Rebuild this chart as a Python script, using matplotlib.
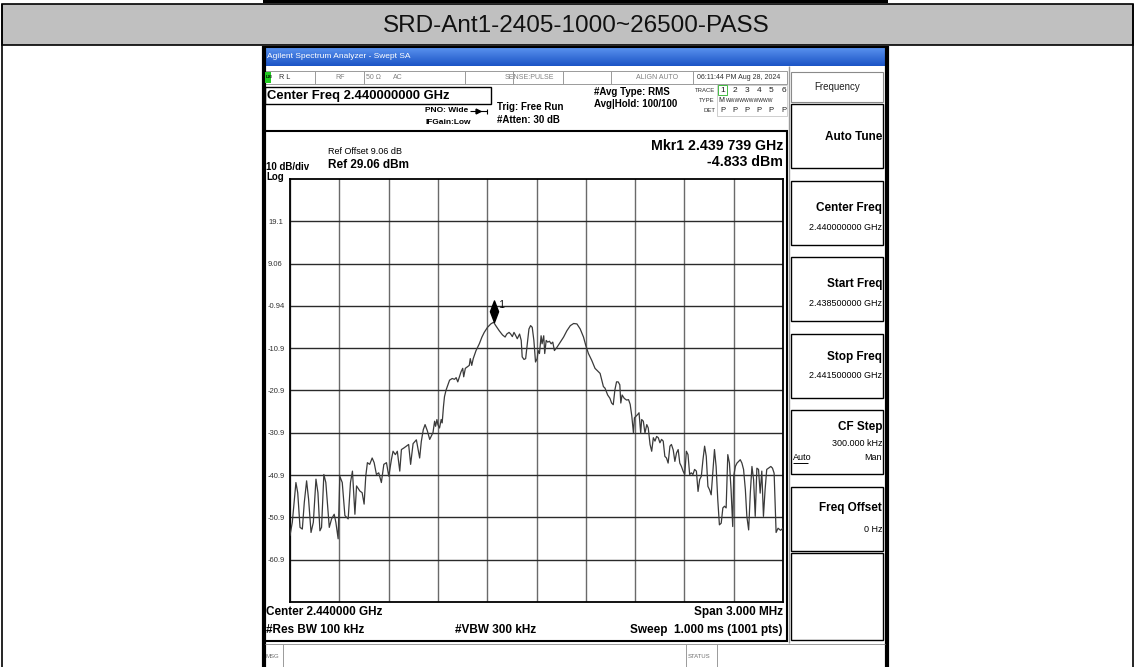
import matplotlib
matplotlib.use("Agg")
import matplotlib.pyplot as plt
import numpy as np
from matplotlib.patches import Rectangle

plt.rcParams['font.family'] = ['Liberation Sans Narrow', 'Liberation Sans', 'DejaVu Sans']

# --- данные ---
title_text = "SRD-Ant1-2405-1000~26500-PASS"
start_ghz = 2.4385
stop_ghz = 2.4415
ref_level = 29.06
db_per_div = 10
y_labels = ["19.1", "9.06", "-0.94", "-10.9", "-20.9", "-30.9", "-40.9", "-50.9", "-60.9"]
mkr_freq = 2.439739
mkr_level = -4.833

# частота над Start Freq, кГц
freq_khz = [0, 14, 36, 47, 61, 75, 87, 101, 113, 128, 142, 158, 170, 182, 192, 206, 218, 239, 253, 269,
            279, 293, 303, 318, 334, 354, 368, 380, 395, 405, 425, 439, 451, 461, 471, 485, 500, 512, 526, 540,
            556, 571, 587, 601, 617, 627, 641, 653, 668, 678, 694, 708, 722, 734, 749, 769, 789, 799, 811, 822,
            836, 850, 870, 880, 886, 894, 900, 910, 920, 926, 934, 940, 950, 971, 987, 1001, 1011, 1021, 1031, 1041,
            1051, 1057, 1067, 1077, 1091, 1097, 1106, 1115, 1132, 1152, 1168, 1182, 1202, 1222, 1239, 1252, 1273, 1293, 1309, 1319,
            1333, 1343, 1353, 1363, 1373, 1383, 1397, 1407, 1413, 1424, 1434, 1444, 1454, 1464, 1474, 1484, 1494, 1504, 1510, 1518,
            1528, 1534, 1544, 1550, 1559, 1568, 1579, 1589, 1599, 1609, 1625, 1645, 1665, 1685, 1706, 1726, 1746, 1766, 1786, 1800,
            1816, 1836, 1856, 1877, 1887, 1897, 1907, 1917, 1933, 1947, 1957, 1967, 1977, 1987, 1997, 2007, 2013, 2021, 2034, 2048,
            2060, 2070, 2080, 2090, 2096, 2106, 2116, 2124, 2134, 2140, 2150, 2160, 2171, 2180, 2191, 2201, 2211, 2221, 2231, 2241,
            2251, 2261, 2271, 2281, 2291, 2301, 2312, 2321, 2332, 2342, 2352, 2362, 2372, 2382, 2392, 2402, 2412, 2422, 2432, 2442,
            2452, 2462, 2473, 2483, 2493, 2503, 2513, 2523, 2533, 2543, 2553, 2563, 2573, 2583, 2593, 2603, 2613, 2624, 2634, 2644,
            2654, 2664, 2674, 2684, 2694, 2700, 2710, 2720, 2730, 2740, 2750, 2760, 2771, 2780, 2791, 2801, 2811, 2821, 2831, 2841,
            2851, 2861, 2871, 2881, 2891, 2901, 2912, 2926, 2936, 2946, 2958, 2970, 2985, 3000]
level_dbm = [-55.2, -52.1, -42.7, -45.1, -53.3, -53.7, -47.4, -42.3, -46.6, -54.5, -52.1, -41.9, -45.1, -54.1, -53.3, -40.8, -42.7, -53.3, -51.3, -50.2,
             -52.1, -56.0, -41.2, -42.7, -50.5, -51.3, -42.7, -40.0, -50.2, -43.5, -44.7, -45.1, -47.8, -41.2, -38.0, -38.4, -36.9, -38.0, -40.8, -40.4,
             -42.7, -38.4, -38.0, -41.2, -37.3, -35.3, -36.1, -35.3, -40.0, -34.9, -34.5, -34.1, -33.7, -38.4, -33.5, -32.6, -36.9, -33.0, -30.2, -29.0,
             -30.5, -32.5, -30.9, -28.2, -29.4, -27.8, -29.0, -29.8, -27.8, -28.6, -24.7, -22.4, -20.8, -18.5, -18.1, -18.3, -17.9, -18.9, -17.7, -16.5,
             -15.7, -17.7, -15.7, -15.4, -15.0, -13.4, -15.0, -13.4, -11.5, -9.9, -8.3, -7.2, -6.0, -5.2, -4.8, -5.6, -6.8, -7.8, -8.3, -7.6,
             -7.2, -7.6, -8.2, -7.2, -7.9, -8.7, -7.6, -9.1, -13.0, -13.6, -13.4, -9.9, -6.4, -5.6, -6.0, -9.1, -14.2, -13.4, -11.5, -12.2,
             -8.0, -9.9, -8.0, -12.2, -9.1, -9.5, -9.3, -9.9, -9.5, -11.5, -10.7, -9.5, -8.3, -6.8, -5.6, -5.1, -5.2, -6.4, -8.3, -10.3,
             -12.2, -13.8, -15.7, -16.5, -16.9, -18.5, -20.0, -20.4, -22.0, -22.8, -23.9, -24.3, -20.8, -18.9, -18.9, -19.6, -23.9, -22.0, -22.8, -23.2,
             -23.1, -24.2, -27.0, -31.0, -27.4, -27.0, -26.6, -26.2, -31.0, -27.8, -28.2, -31.0, -29.0, -29.8, -33.7, -35.3, -32.1, -32.9, -31.8, -32.1,
             -33.3, -32.5, -32.9, -36.5, -36.9, -38.1, -34.1, -33.7, -35.0, -37.7, -35.7, -34.9, -38.1, -38.9, -40.0, -40.8, -35.3, -36.1, -40.8, -40.4,
             -40.8, -39.6, -40.0, -44.8, -42.0, -41.2, -37.3, -34.1, -36.5, -43.6, -44.4, -45.6, -40.4, -34.9, -38.9, -46.7, -52.7, -52.3, -48.7, -48.3,
             -48.7, -36.1, -38.1, -44.4, -53.1, -41.2, -38.9, -38.1, -37.7, -37.3, -38.1, -39.6, -44.4, -50.7, -53.9, -45.2, -38.9, -42.0, -50.7, -39.3,
             -39.6, -45.2, -40.0, -50.7, -44.4, -39.6, -39.3, -38.9, -39.3, -40.5, -54.5, -53.5, -54.0, -53.5]

freq_ghz = start_ghz + np.array(freq_khz) / 1e6
level = np.array(level_dbm)

W, H = 1136, 667
fig = plt.figure(figsize=(W / 100, H / 100), dpi=100)
fig.patch.set_facecolor('white')

# фоновая ось в пикселях
bg = fig.add_axes([0, 0, 1, 1])
bg.set_xlim(0, W)
bg.set_ylim(H, 0)
bg.axis('off')


def box(x0, y0, x1, y1, fc='none', ec='black', lw=1.0, z=1):
    bg.add_patch(Rectangle((x0, y0), x1 - x0, y1 - y0, facecolor=fc, edgecolor=ec, linewidth=lw, zorder=z))


def txt(x, y, s, size=7, weight='normal', ha='left', color='black', **kw):
    bg.text(x, y, s, fontsize=size, fontweight=weight, ha=ha, va='center', color=color, zorder=5, **kw)


def line(xs, ys, color='black', lw=1.0, z=2):
    bg.plot(xs, ys, color=color, linewidth=lw, zorder=z, solid_capstyle='butt')


# таблица
box(0, 0, W, H, fc='white', ec='none', z=0)
box(263, 0, 888, 3, fc='black', ec='none')
box(2, 4, 1133, 45, fc='#c0c0c0', ec='black', lw=1.2)
line([2, 2], [4, H], lw=1.2)
line([1133, 1133], [4, H], lw=1.2)
txt(W / 2 + 8, 26, title_text, size=17.5, ha='center', color='#111111', family=['Liberation Sans', 'DejaVu Sans'])

# окно анализатора
box(262, 46, 888, H, fc='white', ec='none')
line([263.5, 263.5], [46, H], lw=3)
line([886.5, 886.5], [46, H], lw=3)
line([262, 888], [46.5, 46.5], lw=1.5)
grad = np.linspace(0, 1, 20).reshape(-1, 1)
bg.imshow(grad, extent=(265, 885, 66, 47), cmap=matplotlib.colors.LinearSegmentedColormap.from_list('tb', ['#5a92ee', '#1c55c6']),
          aspect='auto', zorder=1)
txt(267, 57, "Agilent Spectrum Analyzer - Swept SA", size=6, color='white')

# строка состояния
box(265, 71, 787, 84, fc='white', ec='#9a9a9a', lw=0.7)
for xv in [315, 364, 465, 513, 563, 611, 693]:
    line([xv, xv], [71, 84], color='#9a9a9a', lw=0.7)
box(265, 72, 271, 83, fc='#22cc22', ec='none', z=3)
txt(265.5, 77.5, "LXI", size=3.2, weight='bold', color='black')
txt(279, 77.5, "R L", size=5.2, color='#303030')
txt(340, 77.5, "RF", size=5, color='#808080', ha='center')
txt(373, 77.5, "50 Ω", size=5, color='#808080', ha='center')
txt(398, 77.5, "AC", size=5, color='#808080', ha='center')
txt(529, 77.5, "SENSE:PULSE", size=5, color='#808080', ha='center')
txt(657, 77.5, "ALIGN AUTO", size=5, color='#808080', ha='center')
txt(739, 77.5, "06:11:44 PM Aug 28, 2024", size=5, color='#303030', ha='center')

# Center Freq
box(265, 87, 491, 104, fc='white', ec='black', lw=1.0)
txt(267, 95.5, "Center Freq 2.440000000 GHz", size=9.4, weight='bold')
txt(425, 111, "PNO: Wide", size=6, weight='bold')
line([470, 487], [111, 111], lw=0.8)
bg.plot([478], [111], marker='>', color='black', markersize=3.5, zorder=3)
line([487, 487], [108.5, 113.5], lw=0.8)
txt(425, 122, "IFGain:Low", size=6, weight='bold')
txt(497, 107, "Trig: Free Run", size=7, weight='bold')
txt(497, 120, "#Atten: 30 dB", size=7, weight='bold')
txt(594, 92, "#Avg Type: RMS", size=7, weight='bold')
txt(594, 104, "Avg|Hold: 100/100", size=7, weight='bold')

# TRACE / TYPE / DET
box(717, 85, 787, 116, fc='white', ec='#c8c8c8', lw=0.6)
box(718, 85, 727, 95, fc='none', ec='#44bb44', lw=0.7)
txt(715, 90, "TRACE", size=4.3, ha='right', color='#303030')
txt(715, 101, "TYPE", size=4.3, ha='right', color='#303030')
txt(715, 111, "DET", size=4.3, ha='right', color='#303030')
for k in range(6):
    xk = 722.5 + k * 12.2
    txt(xk, 90, str(k + 1), size=6, ha='center', color='#202020')
    txt(xk, 111, "P", size=5.5, ha='center', color='#202020')
txt(718, 101, "M", size=5, color='#202020')
txt(726, 101, "WWWWWWWWWW", size=3.6, color='#202020')

# основное поле
box(264, 131, 787, 641, fc='white', ec='black', lw=1.5)
txt(783, 146, "Mkr1 2.439 739 GHz", size=10.2, weight='bold', ha='right')
txt(783, 162, "-4.833 dBm", size=10.2, weight='bold', ha='right')
txt(328, 151, "Ref Offset 9.06 dB", size=6.5)
txt(328, 165, "Ref 29.06 dBm", size=8.5, weight='bold')
txt(266, 167, "10 dB/div", size=7, weight='bold')
txt(266, 176.5, "Log", size=7, weight='bold')
txt(266, 612, "Center 2.440000 GHz", size=8.5, weight='bold')
txt(783, 612, "Span 3.000 MHz", size=8.5, weight='bold', ha='right')
txt(266, 630, "#Res BW 100 kHz", size=8.5, weight='bold')
txt(455, 630, "#VBW 300 kHz", size=8.5, weight='bold')
txt(783, 630, "Sweep  1.000 ms (1001 pts)", size=8.5, weight='bold', ha='right')

# MSG / STATUS
line([265, 885], [644, 644], color='#9a9a9a', lw=0.7)
line([283, 283], [644, H], color='#9a9a9a', lw=0.7)
line([686, 686], [644, H], color='#9a9a9a', lw=0.7)
line([717, 717], [644, H], color='#9a9a9a', lw=0.7)
txt(266, 656, "MSG", size=4.3, color='#707070')
txt(688, 656, "STATUS", size=4.3, color='#707070')

# правая панель
box(788, 66, 885, 643, fc='#e6e6e6', ec='none', z=0.5)
line([789, 789], [66, 643], color='#9a9a9a', lw=1.0)
box(791, 72, 883, 102, fc='white', ec='#8a8a8a', lw=0.8)
txt(837, 87, "Frequency", size=7, ha='center', color='#202020')
panel_tops = [104, 181, 257, 334, 410, 487]
for yt in panel_tops:
    box(791, yt, 883, yt + 64, fc='white', ec='black', lw=1.0)
box(791, 553, 883, 640, fc='white', ec='black', lw=1.0)
txt(882, 137, "Auto Tune", size=8.5, weight='bold', ha='right')
txt(882, 208, "Center Freq", size=8.5, weight='bold', ha='right')
txt(882, 227, "2.440000000 GHz", size=6.5, ha='right')
txt(882, 284, "Start Freq", size=8.5, weight='bold', ha='right')
txt(882, 303, "2.438500000 GHz", size=6.5, ha='right')
txt(882, 357, "Stop Freq", size=8.5, weight='bold', ha='right')
txt(882, 376, "2.441500000 GHz", size=6.5, ha='right')
txt(882, 427, "CF Step", size=8.5, weight='bold', ha='right')
txt(882, 443, "300.000 kHz", size=6.5, ha='right')
txt(793, 458, "Auto", size=6.5)
line([793, 808], [463, 463], lw=0.7)
txt(882, 458, "Man", size=6.5, ha='right')
txt(882, 508, "Freq Offset", size=8.5, weight='bold', ha='right')
txt(882, 530, "0 Hz", size=6.5, ha='right')

# сетка со спектром
gx0, gx1, gy0, gy1 = 290, 783, 179, 602
ax = fig.add_axes([gx0 / W, 1 - gy1 / H, (gx1 - gx0) / W, (gy1 - gy0) / H])
ax.set_xlim(start_ghz, stop_ghz)
ax.set_ylim(ref_level - 10 * db_per_div, ref_level)
ax.set_facecolor('white')
ax.set_xticks(np.linspace(start_ghz, stop_ghz, 11))
ax.set_xticklabels([])
ax.set_yticks(ref_level - db_per_div * np.arange(1, 10), labels=y_labels)
ax.tick_params(axis='x', length=0)
ax.tick_params(axis='y', length=0, pad=15.8, labelsize=5.5, labelcolor='#303030')
for lbl in ax.get_yticklabels():
    lbl.set_horizontalalignment('left')
ax.xaxis.grid(True, color='#6a6a6a', linewidth=1.0)
ax.yaxis.grid(True, color='#2a2a2a', linewidth=1.0)
for sp in ax.spines.values():
    sp.set_color('black')
    sp.set_linewidth(1.3)

ax.plot(freq_ghz, level, color='#3a3a3a', linewidth=0.9, zorder=3)

# маркер
diamond = [(0, 0), (0.38, 1), (0, 2), (-0.38, 1), (0, 0)]
ax.plot([mkr_freq], [mkr_level], marker=diamond, markersize=31, color='black', linestyle='none', zorder=4)
ax.text(mkr_freq, mkr_level, "  1", fontsize=7, ha='left', va='bottom', color='black',
        transform=ax.transData + matplotlib.transforms.ScaledTranslation(0, 12 / 100, fig.dpi_scale_trans))

fig.savefig("out.png", dpi=100)
